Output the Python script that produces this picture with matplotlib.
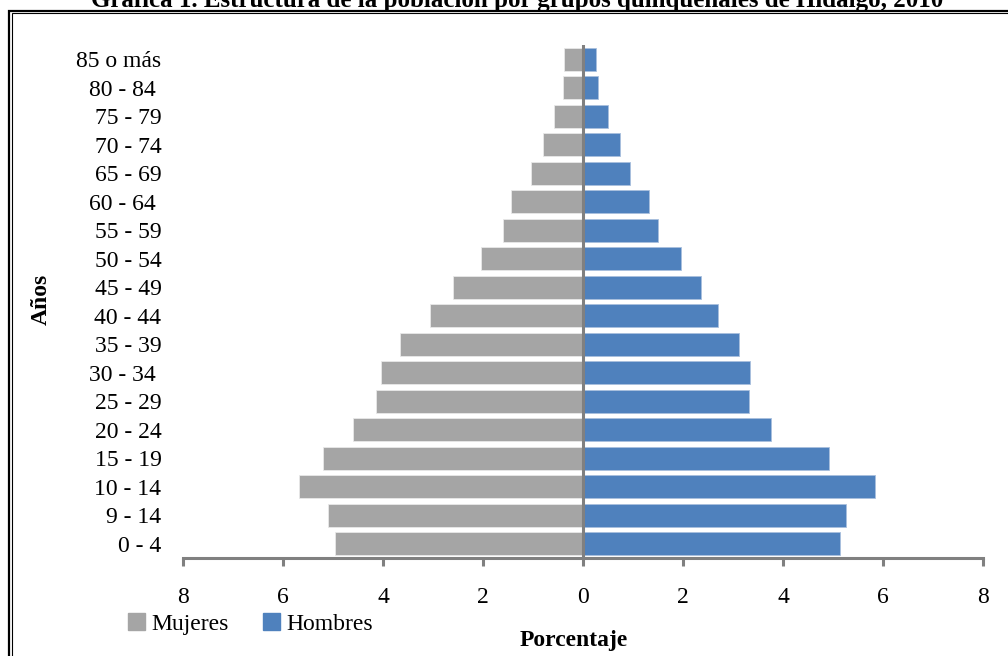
import matplotlib
matplotlib.use("Agg")
import matplotlib.pyplot as plt
from matplotlib.lines import Line2D
from matplotlib.patches import Patch
import numpy as np

plt.rcParams['font.family'] = ['Liberation Serif', 'DejaVu Serif']

# Grupos quinquenales (de mayor a menor edad, como se leen de arriba abajo)
grupos = ["85 o más", "80 - 84 ", "75 - 79", "70 - 74", "65 - 69", "60 - 64 ",
          "55 - 59", "50 - 54", "45 - 49", "40 - 44", "35 - 39", "30 - 34 ",
          "25 - 29", "20 - 24", "15 - 19", "10 - 14", "9 - 14", "0 - 4"]

# Porcentaje de la población por sexo
mujeres = [0.37, 0.39, 0.58, 0.80, 1.04, 1.44, 1.60, 2.04, 2.60, 3.06,
           3.66, 4.04, 4.14, 4.60, 5.20, 5.68, 5.10, 4.96]
hombres = [0.27, 0.31, 0.51, 0.74, 0.95, 1.32, 1.51, 1.96, 2.36, 2.70,
           3.12, 3.34, 3.32, 3.76, 4.92, 5.84, 5.26, 5.14]

xticks = [-8, -6, -4, -2, 0, 2, 4, 6, 8]

gris = "#A5A5A5"
azul = "#4F81BD"
eje = "#808080"
fs = 17

fig = plt.figure(figsize=(10.08, 6.56), dpi=100)
ax = fig.add_axes([0.1815, 0.1494, 0.7937, 0.782])

y = np.arange(len(grupos))[::-1]
ax.barh(y, [-m for m in mujeres], height=0.79, color=gris,
        edgecolor="#E8E8E8", linewidth=0.6)
ax.barh(y, hombres, height=0.79, color=azul,
        edgecolor="#A9C0DE", linewidth=0.6)

ax.set_xlim(-8, 8)
ax.set_ylim(-0.5, len(grupos) - 0.5)
ax.axvline(0, color=eje, linewidth=2.2, zorder=3)

for s in ["top", "right", "left"]:
    ax.spines[s].set_visible(False)
ax.spines["bottom"].set_color(eje)
ax.spines["bottom"].set_linewidth(2.2)

ax.set_xticks(xticks)
ax.set_xticklabels([str(abs(v)) for v in xticks])
ax.tick_params(axis="x", direction="out", length=6, width=2.2, color=eje,
               labelsize=fs, pad=15)
ax.set_yticks(y)
ax.set_yticklabels(grupos)
ax.tick_params(axis="y", length=0, labelsize=fs, pad=15.5)

fig.text(0.569, 0.024, "Porcentaje", ha="center", va="center",
         fontsize=fs, fontweight="bold")
fig.text(0.041, 0.543, "Años", ha="center", va="center", rotation=90,
         fontsize=fs, fontweight="bold")

handles = [Patch(facecolor=gris, edgecolor=gris), Patch(facecolor=azul, edgecolor=azul)]
fig.legend(handles, ["Mujeres", "Hombres"], loc="center left",
           bbox_to_anchor=(0.127, 0.049), ncol=2, frameon=False,
           fontsize=fs, handlelength=0.7, handleheight=0.7,
           handletextpad=0.3, columnspacing=1.45, borderaxespad=0,
           borderpad=0)

fig.text(0.513, 1 - 7 / 656,
         "Gráfica 1. Estructura de la población por grupos quinquenales de Hidalgo, 2010",
         ha="center", va="baseline", fontsize=18, fontweight="bold")

# Doble marco del recuadro
H, W = 656, 1008
fig.add_artist(Line2D([9.0 / W, 9.0 / W, 1.0], [0, 1 - 10.8 / H, 1 - 10.8 / H],
                      color="black", linewidth=1.6, transform=fig.transFigure,
                      solid_joinstyle="miter"))
fig.add_artist(Line2D([12.0 / W, 12.0 / W, 1.0], [0, 1 - 13.3 / H, 1 - 13.3 / H],
                      color="black", linewidth=0.8, transform=fig.transFigure,
                      solid_joinstyle="miter"))

fig.savefig("out.png", dpi=100)
